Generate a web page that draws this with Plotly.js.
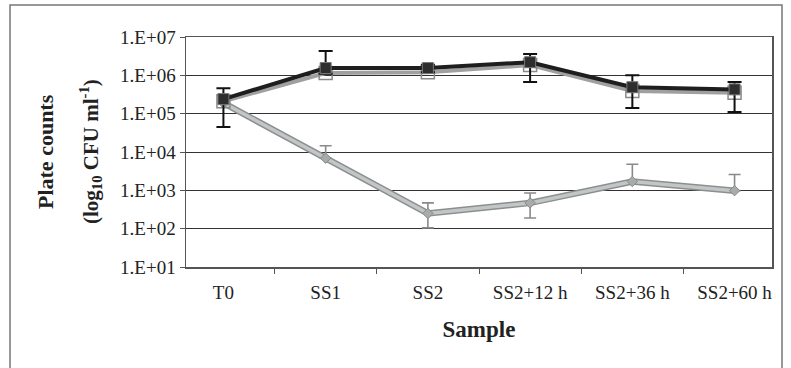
<!DOCTYPE html>
<html>
<head>
<meta charset="utf-8">
<script src="https://cdn.plot.ly/plotly-3.0.1.min.js"></script>
<style>html,body{margin:0;padding:0;background:#fff;}#chart{width:791px;height:368px;}</style>
</head>
<body>
<div id="chart"></div>
<script>
const categories = ['T0', 'SS1', 'SS2', 'SS2+12 h', 'SS2+36 h', 'SS2+60 h'];

// Series A (dark line, filled squares)
const seriesA = [2.4e5, 1.55e6, 1.55e6, 2.2e6, 4.9e5, 4.3e5];
const seriesA_hi = [4.6e5, 4.3e6, 1.9e6, 3.6e6, 1.0e6, 6.7e5];
const seriesA_lo = [4.5e4, 1.1e6, 1.2e6, 6.7e5, 1.4e5, 1.1e5];

// Series B (grey line, open squares)
const seriesB = [2.1e5, 1.15e6, 1.2e6, 1.85e6, 3.9e5, 3.5e5];

// Series C (light grey line, diamonds)
const seriesC = [1.9e5, 6.9e3, 2.5e2, 4.7e2, 1.7e3, 9.8e2];
const seriesC_hi = [1.9e5, 1.45e4, 4.7e2, 8.5e2, 4.8e3, 2.6e3];
const seriesC_lo = [1.9e5, 6.9e3, 1.05e2, 1.9e2, 1.7e3, 9.8e2];

const yTickVals = [1e1, 1e2, 1e3, 1e4, 1e5, 1e6, 1e7];
const yTickText = ['1.E+01', '1.E+02', '1.E+03', '1.E+04', '1.E+05', '1.E+06', '1.E+07'];

const plus = (v, hi) => v.map((x, i) => Math.max(hi[i] - x, 0));
const minus = (v, lo) => v.map((x, i) => Math.max(x - lo[i], 0));

const serif = 'Liberation Serif, Times New Roman, serif';

const traces = [
  {
    x: categories, y: seriesC, type: 'scatter', mode: 'lines',
    line: {color: '#8c8f8f', width: 6.5}, hoverinfo: 'skip', showlegend: false,
    error_y: {type: 'data', array: plus(seriesC, seriesC_hi), arrayminus: minus(seriesC, seriesC_lo),
              color: '#8a8a8a', thickness: 1.6, width: 6}
  },
  {
    x: categories, y: seriesC, type: 'scatter', mode: 'lines+markers',
    line: {color: '#c3c6c6', width: 3.5},
    marker: {symbol: 'diamond', size: 8, color: '#a8abab', line: {color: '#8a8a8a', width: 1}},
    showlegend: false
  },
  {
    x: categories, y: seriesB, type: 'scatter', mode: 'lines+markers',
    line: {color: '#a0a0a0', width: 4},
    marker: {symbol: 'square-open', size: 13, color: '#8a8a8a', line: {width: 1.5}},
    showlegend: false
  },
  {
    x: categories, y: seriesA, type: 'scatter', mode: 'lines+markers',
    line: {color: '#1e1e1e', width: 4},
    marker: {symbol: 'square', size: 11, color: '#2e2e2e', line: {color: '#777', width: 1}},
    error_y: {type: 'data', array: plus(seriesA, seriesA_hi), arrayminus: minus(seriesA, seriesA_lo),
              color: '#111', thickness: 2, width: 7},
    showlegend: false
  }
];

const layout = {
  width: 791, height: 368,
  margin: {l: 186, r: 19, t: 37, b: 101},
  paper_bgcolor: '#fff', plot_bgcolor: '#fff',
  font: {family: serif, color: '#222', size: 19},
  showlegend: false,
  xaxis: {
    type: 'category', tickson: 'boundaries', ticks: 'outside', ticklen: 5, tickcolor: '#555',
    showline: true, linecolor: '#555', linewidth: 1.5, mirror: true,
    showgrid: false, zeroline: false, ticklabelstandoff: 8,
    tickfont: {family: serif, size: 19, color: '#222'},
    title: {text: '<b>Sample</b>', font: {family: serif, size: 23, color: '#222'}, standoff: 18}
  },
  yaxis: {
    type: 'log', range: [1, 7], tickvals: yTickVals, ticktext: yTickText,
    ticks: 'outside', ticklen: 5, tickcolor: '#555',
    showline: true, linecolor: '#555', linewidth: 1.5, mirror: true,
    showgrid: true, gridcolor: '#333', gridwidth: 1, zeroline: false,
    tickfont: {family: serif, size: 19, color: '#222'}
  },
  annotations: [
    {xref: 'paper', yref: 'paper', x: -0.2406, y: 0.5, xanchor: 'center', yanchor: 'middle',
     text: '<b>Plate counts</b>', textangle: -90, showarrow: false,
     font: {family: serif, size: 22, color: '#222'}},
    {xref: 'paper', yref: 'paper', x: -0.1638, y: 0.5, xanchor: 'center', yanchor: 'middle',
     text: '<b>(log<sub>10</sub> CFU ml<sup>-1</sup>)</b>', textangle: -90, showarrow: false,
     font: {family: serif, size: 21, color: '#222'}}
  ],
  shapes: [
    {type: 'rect', xref: 'paper', yref: 'paper', x0: -0.3003, x1: 1.0171, y0: -0.6, y1: 1.139,
     line: {color: '#777', width: 1.5}, fillcolor: 'rgba(0,0,0,0)', layer: 'below'}
  ]
};

Plotly.newPlot('chart', traces, layout, {displayModeBar: false, staticPlot: true});
</script>
</body>
</html>
